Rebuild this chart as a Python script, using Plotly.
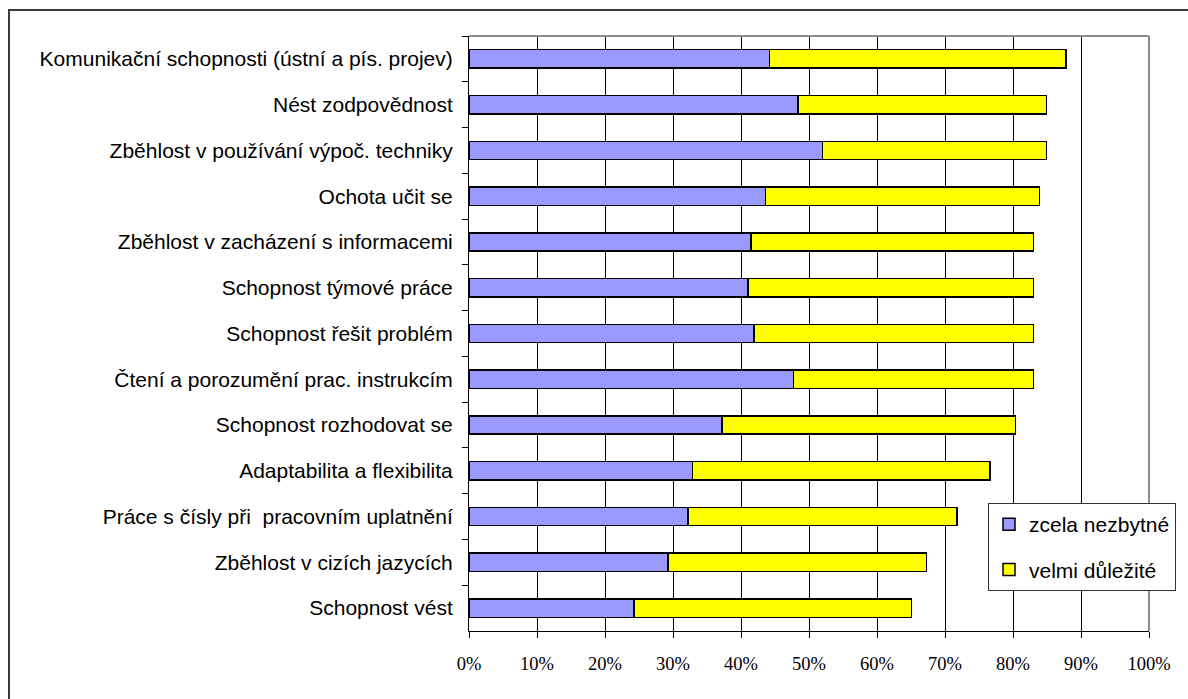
import plotly.graph_objects as go

categories = [
    "Komunikační schopnosti (ústní a pís. projev)",
    "Nést zodpovědnost",
    "Zběhlost v používání výpoč. techniky",
    "Ochota učit se",
    "Zběhlost v zacházení s informacemi",
    "Schopnost týmové práce",
    "Schopnost řešit problém",
    "Čtení a porozumění prac. instrukcím",
    "Schopnost rozhodovat se",
    "Adaptabilita a flexibilita",
    "Práce s čísly při  pracovním uplatnění",
    "Zběhlost v cizích jazycích",
    "Schopnost vést",
]
zcela_nezbytne = [44.2, 48.4, 52.0, 43.6, 41.5, 41.0, 41.9, 47.7, 37.2, 32.9, 32.2, 29.3, 24.3]
velmi_dulezite = [43.6, 36.5, 32.9, 40.3, 41.5, 42.0, 41.1, 35.3, 43.2, 43.7, 39.6, 38.0, 40.8]
series_names = ["zcela nezbytné", "velmi důležité"]
x_ticks = [0, 10, 20, 30, 40, 50, 60, 70, 80, 90, 100]

W, H = 1188, 699
L, R, T, B = 469, 1149, 36, 631

def px_x(p):
    return (p - L) / (R - L)

def px_y(p):
    return (B - p) / (B - T)

fig = go.Figure()
fig.add_trace(go.Bar(
    y=categories, x=zcela_nezbytne, name=series_names[0], orientation="h",
    marker=dict(color="#9999FF", line=dict(color="#000000", width=1.5)),
    legendgroup="a",
))
fig.add_trace(go.Bar(
    y=categories, x=velmi_dulezite, name=series_names[1], orientation="h",
    marker=dict(color="#FFFF00", line=dict(color="#000000", width=1.5)),
    legendgroup="b",
))

fig.update_layout(
    width=W, height=H,
    margin=dict(l=L, r=W - R, t=T, b=H - B, pad=0),
    barmode="stack",
    bargap=0.6,
    paper_bgcolor="white",
    plot_bgcolor="white",
    font=dict(family="Liberation Sans, Arial, sans-serif", size=21, color="black"),
    legend=dict(
        x=px_x(988), y=px_y(503), xanchor="left", yanchor="top",
        bgcolor="white", bordercolor="#333333", borderwidth=1,
        font=dict(family="Liberation Sans, Arial, sans-serif", size=21, color="black"),
        traceorder="grouped", tracegroupgap=15,
    ),
    xaxis=dict(
        range=[0, 100], tickvals=x_ticks, ticktext=[f"{v}%" for v in x_ticks],
        showgrid=True, gridcolor="#000000", gridwidth=1,
        showline=True, linecolor="#000000", linewidth=1,
        ticks="outside", ticklen=6, tickcolor="#000000", tickwidth=1,
        tickfont=dict(family="Liberation Serif, Times New Roman, serif", size=18.5, color="black"),
        ticklabelstandoff=10,
        zeroline=False, fixedrange=True,
    ),
    yaxis=dict(
        autorange="reversed", type="category",
        showgrid=False,
        showline=True, linecolor="#000000", linewidth=1,
        ticks="outside", ticklen=6, tickcolor="#000000", tickwidth=1,
        tickson="boundaries",
        tickfont=dict(family="Liberation Sans, Arial, sans-serif", size=21, color="black"),
        ticklabelstandoff=11,
        fixedrange=True,
    ),
    shapes=[
        dict(type="line", xref="x domain", yref="y domain", x0=0, x1=1, y0=1, y1=1,
             line=dict(color="#8c8c8c", width=2), layer="above"),
        dict(type="line", xref="x domain", yref="y domain", x0=1, x1=1, y0=0, y1=1,
             line=dict(color="#8c8c8c", width=2), layer="above"),
        dict(type="rect", xref="paper", yref="paper",
             x0=px_x(9), x1=px_x(1210), y0=px_y(720), y1=px_y(10),
             line=dict(color="#3c3c3c", width=2), fillcolor="rgba(0,0,0,0)", layer="above"),
    ],
)

fig.write_html("out.html")
